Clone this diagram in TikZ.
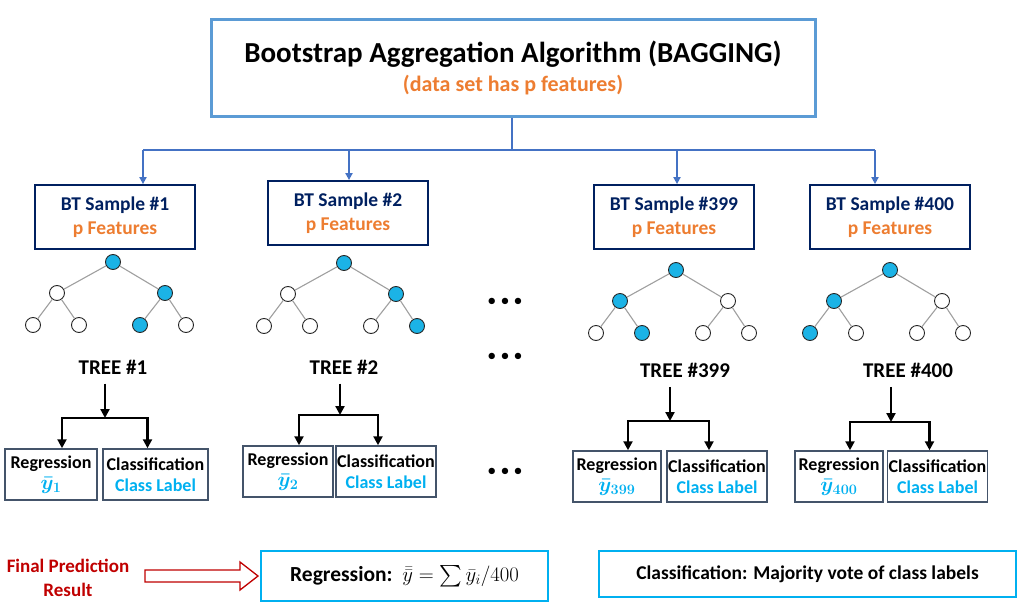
\documentclass[tikz,border=0pt]{standalone}
\usepackage{amsmath,amssymb}
\usepackage{fontspec}
\setmainfont{Carlito}
\usepackage{xcolor}
\usetikzlibrary{arrows.meta,positioning,calc}
\definecolor{topbl}{HTML}{5B9BD5}
\definecolor{lnkbl}{HTML}{4472C4}
\definecolor{navy}{HTML}{002060}
\definecolor{orng}{HTML}{ED7D31}
\definecolor{cyanb}{HTML}{00B0F0}
\definecolor{ndfill}{HTML}{1BB3E6}
\definecolor{resg}{HTML}{44546A}
\definecolor{dred}{HTML}{C00000}
\tikzset{
  topbox/.style={draw=topbl, line width=3pt, minimum width=604pt, minimum height=96pt, align=center},
  smp/.style   ={draw=navy, line width=1.8pt, minimum width=160pt, minimum height=64pt, align=center,
                 font=\fontsize{19.5}{24}\selectfont\bfseries},
  nd/.style    ={circle, draw=black!85, line width=0.9pt, minimum size=15pt, inner sep=0pt, fill=white},
  ndf/.style   ={nd, fill=ndfill},
  edg/.style   ={draw=gray!75, line width=1.1pt},
  lbl/.style   ={font=\fontsize{21}{24}\selectfont\bfseries},
  res/.style   ={draw=resg, line width=1.5pt, minimum height=51pt, align=center, inner sep=1pt,
                 font=\fontsize{18}{21}\selectfont\bfseries},
  fin/.style   ={draw=cyanb, line width=2pt, minimum height=50pt},
  lnk/.style   ={draw=lnkbl, line width=1.8pt},
  ar/.style    ={lnk, -{Triangle[length=7pt,width=7pt]}},
  arb/.style   ={-{Triangle[length=9pt,width=9pt]}, line width=2.2pt},
  brk/.style   ={{Triangle[length=9pt,width=9pt]}-{Triangle[length=9pt,width=9pt]}, line width=2.2pt},
}
\newcommand{\ybr}[1]{\textcolor{cyanb}{\fontsize{21}{21}\selectfont$\boldsymbol{\bar{y}_{#1}}$}}
\begin{document}
\begin{tikzpicture}[x=1pt,y=-1pt]
\useasboundingbox (0,0) rectangle (1030,610);
% top box
\node[topbox] (top) at (513,68)
  {{\fontsize{29}{32}\selectfont\bfseries Bootstrap Aggregation Algorithm (BAGGING)}\\[7pt]
   {\fontsize{22}{24}\selectfont\bfseries\textcolor{orng}{(data set has p features)}}};
% bootstrap samples
\node[smp] (s1)   at (115,217) {\textcolor{navy}{BT Sample \#1}\\\textcolor{orng}{p Features}};
\node[smp] (s2)   at (348,213) {\textcolor{navy}{BT Sample \#2}\\\textcolor{orng}{p Features}};
\node[smp] (s399) at (674,217) {\textcolor{navy}{BT Sample \#399}\\\textcolor{orng}{p Features}};
\node[smp] (s400) at (890,217) {\textcolor{navy}{BT Sample \#400}\\\textcolor{orng}{p Features}};
\coordinate (hub) at (512,150);
\coordinate (d1)   at (143,150);
\coordinate (d2)   at (349,150);
\coordinate (d399) at (677,150);
\coordinate (d400) at (875,150);
\draw[lnk] (top.south -| hub) -- (hub);
\draw[lnk] (d1) -- (d400);
\foreach \t in {1,2,399,400}
  \draw[ar] (d\t) -- (d\t |- s\t.north);
% trees
\foreach \t/\x/\y/\sa/\sb/\sc/\sd/\se/\sf in
  {1/113/262/nd/ndf/nd/nd/ndf/nd, 2/344/263/nd/ndf/nd/nd/nd/ndf,
   399/676/270/ndf/nd/nd/ndf/nd/nd, 400/890/270/ndf/nd/ndf/nd/nd/nd}{
  \node[ndf] (r\t) at (\x,\y) {};
  \node[\sa] (a\t)  at ($(r\t)+(-56,31)$) {};
  \node[\sb] (b\t)  at ($(r\t)+(52,31)$) {};
  \node[\sc] (aa\t) at ($(r\t)+(-80,63)$) {};
  \node[\sd] (ab\t) at ($(r\t)+(-34,63)$) {};
  \node[\se] (ba\t) at ($(r\t)+(27,63)$) {};
  \node[\sf] (bb\t) at ($(r\t)+(73,63)$) {};
  \draw[edg] (r\t) -- (a\t) (r\t) -- (b\t) (a\t) -- (aa\t) (a\t) -- (ab\t)
             (b\t) -- (ba\t) (b\t) -- (bb\t);
}
\node[lbl] (tl1)   at (113,367) {TREE \#1};
\node[lbl] (tl2)   at (344,367) {TREE \#2};
\node[lbl] (tl399) at (685,370) {TREE \#399};
\node[lbl] (tl400) at (908,370) {TREE \#400};
% dots
\node[font=\fontsize{18}{18}\selectfont] (dt1) at (505,302) {\textbullet\ \textbullet\ \textbullet};
\node[font=\fontsize{18}{18}\selectfont] (dt2) at (505,357) {\textbullet\ \textbullet\ \textbullet};
\node[font=\fontsize{18}{18}\selectfont] (dt3) at (505,472) {\textbullet\ \textbullet\ \textbullet};
% results per tree
\node[res, minimum width=92pt]  (rg1)   at (51,474.5)  {Regression\\\ybr{1}};
\node[res, minimum width=105pt] (cl1)   at (155.5,474.5) {Classification\\\textcolor{cyanb}{Class Label}};
\node[res, minimum width=90pt]  (rg2)   at (288,471.5) {Regression\\\ybr{2}};
\node[res, minimum width=98pt]  (cl2)   at (386,471.5) {Classification\\\textcolor{cyanb}{Class Label}};
\node[res, minimum width=88pt]  (rg399) at (617,476.5) {Regression\\\ybr{399}};
\node[res, minimum width=100pt] (cl399) at (717,476.5) {Classification\\\textcolor{cyanb}{Class Label}};
\node[res, minimum width=88pt]  (rg400) at (839,476.5) {Regression\\\ybr{400}};
\node[res, minimum width=99pt]  (cl400) at (937.5,476.5) {Classification\\\textcolor{cyanb}{Class Label}};
\coordinate (k1)   at (105,418);
\coordinate (k2)   at (340,415);
\coordinate (k399) at (670,421);
\coordinate (k400) at (891,422);
\foreach \t in {1,2,399,400}{
  \draw[arb, shorten <=6pt] (tl\t.south -| k\t) -- (k\t);
  \draw[brk] ([xshift=11pt]rg\t.north) |- (k\t) -| ([xshift=-8pt]cl\t.north);
}
% final prediction
\node[font=\fontsize{19}{24}\selectfont\bfseries, text=dred, align=center] (fp) at (68,578) {Final Prediction\\Result};
\node[fin, minimum width=287pt, font=\fontsize{21.5}{24}\selectfont\bfseries] (rgf) at (404.5,576)
  {Regression:\ \ $\bar{\bar{y}} = \sum \bar{y}_i/400$};
\node[fin, minimum width=417pt, minimum height=46pt, font=\fontsize{19.5}{23}\selectfont\bfseries] (clf) at (807.5,574)
  {Classification: Majority vote of class labels};
\draw[draw=dred, line width=1.3pt, fill=white] (145,570) -- ++(95,0) -- ++(0,-8) -- ++(18,14)
  -- ++(-18,14) -- ++(0,-8) -- ++(-95,0) -- cycle;
\end{tikzpicture}
\end{document}
